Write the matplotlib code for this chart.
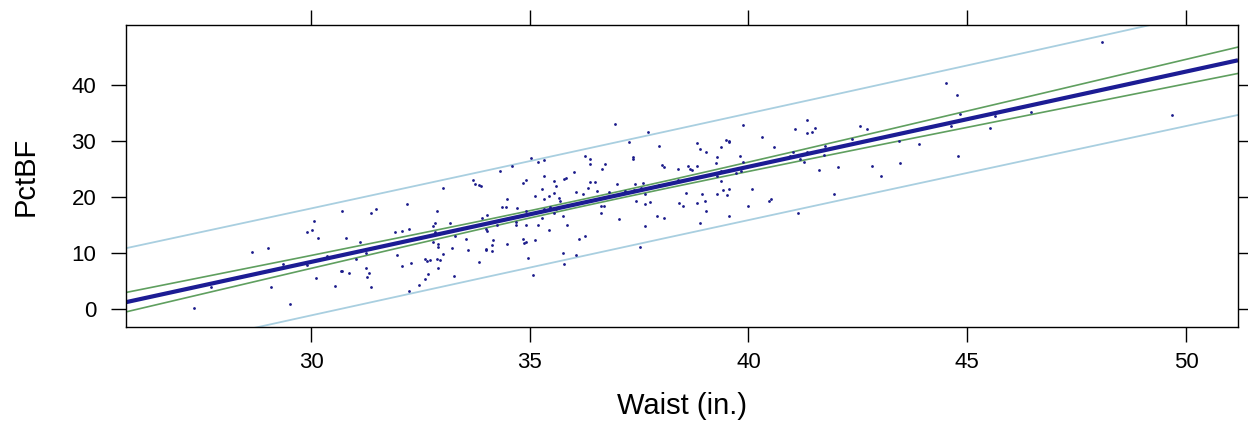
import numpy as np
import matplotlib
matplotlib.use("Agg")
import matplotlib.pyplot as plt

plt.rcParams['font.family'] = ['Liberation Sans', 'DejaVu Sans']

# Waist (in.) and PctBF values
waist = [
    27.32, 27.72, 28.66, 29.02, 29.36, 29.09, 29.51, 29.92, 30.03, 30.07, 30.15, 29.92, 30.11,
    33.70, 33.74, 33.84, 33.02, 32.20, 30.70, 31.37, 31.49, 32.87, 33.18, 32.84, 32.80,
    31.93, 32.08, 32.24, 32.84, 33.29, 33.54, 30.79, 31.13, 32.80, 32.90, 32.90, 33.22,
    33.59, 33.02, 31.25, 30.36, 31.97, 31.02, 32.60, 32.65, 32.72, 32.87, 32.95, 33.85,
    32.08, 32.29, 32.91, 30.68, 30.72, 30.87, 31.25, 31.33, 31.29, 32.68, 32.60, 33.26,
    32.48, 31.37, 30.55, 32.24,
    33.89, 36.96, 35.03, 35.19, 35.32, 34.33, 34.60, 36.26, 36.38, 36.38, 36.73, 36.65,
    36.02, 35.32, 34.84, 34.91, 35.55, 35.78, 35.83, 35.59, 35.27, 36.38, 36.50, 37.00,
    36.34, 36.06, 36.21, 36.53, 36.81, 35.12, 35.44, 35.55, 35.32, 35.66, 35.70, 34.49,
    34.37, 34.45, 34.72, 36.62, 36.69, 35.47, 34.91, 35.32, 35.59, 36.62, 34.02, 35.55,
    35.75, 35.27, 33.90, 37.04, 34.68, 34.68, 34.25, 34.91, 35.19, 35.86, 33.99, 34.02,
    35.44, 34.84, 34.88, 34.91, 35.12, 34.16, 34.13, 34.49, 34.01, 34.01, 34.13, 36.13,
    36.26, 35.75, 36.06, 34.96, 35.78, 35.07,
    39.88, 37.71, 37.28, 40.32, 37.95, 38.82, 38.89, 39.04, 39.49, 39.56, 39.56, 39.37,
    39.29, 39.80, 40.59, 37.36, 37.36, 39.26, 39.88, 38.02, 38.07, 38.62, 38.66, 38.70,
    38.82, 38.39, 39.37, 39.29, 39.72, 39.84, 38.39, 39.37, 37.40, 37.60, 37.95, 37.17,
    37.39, 37.55, 37.64, 39.41, 39.56, 39.29, 39.52, 38.58, 38.93, 40.08, 37.44, 37.76,
    37.64, 38.42, 38.51, 38.82, 39.01, 39.99, 40.47, 40.51, 39.04, 37.91, 38.07, 39.56,
    37.64, 38.89, 37.52,
    44.52, 44.76, 44.84, 44.64, 44.80, 41.33, 41.06, 41.53, 41.45, 41.33, 42.56, 42.71,
    42.36, 41.76, 41.01, 41.33, 40.94, 41.72, 41.18, 41.26, 43.43, 43.90, 43.46, 41.61,
    42.05, 42.83, 43.04, 41.95, 41.14,
    48.07, 45.51, 45.63, 46.45, 49.68,
]
pctbf = [
    0.2, 4.05, 10.3, 10.9, 8.0, 3.9, 0.9, 13.7, 14.2, 15.8, 12.7, 7.9, 5.5,
    23.0, 22.3, 22.1, 21.7, 18.7, 17.6, 17.2, 17.9, 17.5, 15.4, 15.3, 14.9,
    13.8, 14.0, 14.4, 13.7, 13.0, 12.5, 12.7, 12.0, 12.0, 11.6, 11.1, 10.9,
    10.5, 9.8, 10.1, 9.5, 9.6, 9.0, 9.0, 8.6, 8.7, 9.0, 8.8, 8.5,
    7.7, 8.2, 7.3, 6.8, 6.8, 6.5, 7.3, 6.5, 5.8, 6.25, 5.4, 5.9,
    4.3, 3.9, 4.1, 3.2,
    22.0, 33.0, 27.0, 26.25, 26.7, 24.6, 25.5, 27.4, 26.8, 25.95, 25.95, 25.0,
    24.5, 23.75, 22.55, 23.0, 22.9, 23.2, 23.45, 22.0, 21.5, 22.7, 22.7, 22.3,
    21.55, 21.0, 20.5, 21.1, 20.95, 20.2, 20.2, 20.65, 19.6, 19.9, 19.3, 19.7,
    18.2, 18.3, 18.0, 18.45, 18.35, 18.3, 17.45, 17.9, 17.9, 17.1, 16.8, 17.1,
    16.7, 16.2, 16.2, 16.1, 15.65, 15.05, 15.05, 15.1, 15.0, 15.0, 14.3, 13.9,
    14.1, 12.6, 11.8, 12.0, 12.4, 12.3, 11.4, 11.7, 10.7, 10.5, 10.4, 12.6,
    13.15, 10.1, 9.75, 9.2, 8.0, 6.2,
    32.9, 31.55, 29.9, 30.8, 29.2, 29.6, 28.5, 28.0, 30.2, 30.05, 29.75, 28.9,
    27.1, 27.3, 28.9, 27.2, 26.8, 26.0, 26.2, 25.65, 25.3, 25.5, 25.0, 24.8,
    25.6, 25.0, 24.7, 23.8, 24.3, 24.6, 23.0, 22.8, 22.3, 22.5, 22.2, 21.1,
    21.3, 21.7, 20.6, 21.2, 21.4, 20.5, 20.4, 20.65, 20.5, 21.4, 19.3, 19.2,
    18.75, 18.9, 18.5, 18.9, 19.3, 18.45, 19.4, 19.7, 17.6, 16.7, 16.25, 16.7,
    14.8, 15.4, 11.1,
    40.3, 38.25, 34.9, 32.7, 27.4, 33.8, 32.2, 32.4, 31.7, 31.4, 32.7, 32.1,
    30.4, 29.2, 28.1, 28.1, 27.4, 27.5, 26.8, 26.25, 30.1, 29.5, 26.1, 24.9,
    25.4, 25.5, 23.75, 20.6, 17.1,
    47.6, 32.4, 34.4, 35.1, 34.6,
]

x_ticks = [30, 35, 40, 45, 50]
y_ticks = [0, 10, 20, 30, 40]
x_label = "Waist (in.)"
y_label = "PctBF"

x = np.array(waist)
y = np.array(pctbf)
n = len(x)
slope, intercept = np.polyfit(x, y, 1)
resid = y - (intercept + slope * x)
s = np.sqrt(np.sum(resid ** 2) / (n - 2))
xbar = x.mean()
sxx = np.sum((x - xbar) ** 2)
tval = 1.9696

xlim = (25.76, 51.19)
ylim = (-3.16, 50.7)
xs = np.linspace(xlim[0], xlim[1], 400)
fit = intercept + slope * xs
se_mean = s * np.sqrt(1.0 / n + (xs - xbar) ** 2 / sxx)
se_pred = s * np.sqrt(1.0 + 1.0 / n + (xs - xbar) ** 2 / sxx)

fig = plt.figure(figsize=(12.48, 4.36), dpi=100)
ax = fig.add_axes([125.5 / 1248, 1 - 327 / 436, (1238 - 125.5) / 1248, (327 - 25) / 436])

blue_light = "#a9cfe0"
green = "#5f9f5f"
navy = "#1c1c94"

ax.plot(xs, fit + tval * se_pred, color=blue_light, lw=1.3)
ax.plot(xs, fit - tval * se_pred, color=blue_light, lw=1.3)
ax.plot(xs, fit + tval * se_mean, color=green, lw=1.2)
ax.plot(xs, fit - tval * se_mean, color=green, lw=1.2)
ax.plot(xs, fit, color=navy, lw=3.0, solid_capstyle='butt')
ax.scatter(x, y, s=4, color="#1a1a8a", linewidths=0, zorder=5)

ax.set_xlim(*xlim)
ax.set_ylim(*ylim)
ax.set_xticks(x_ticks)
ax.set_yticks(y_ticks)
ax.tick_params(axis='both', direction='out', length=11, width=1.0, labelsize=16,
               top=True, right=True, labeltop=False, labelright=False)
ax.tick_params(axis='x', pad=7)
ax.tick_params(axis='y', pad=10)
for sp in ax.spines.values():
    sp.set_linewidth(1.0)
ax.set_xlabel(x_label, fontsize=21)
ax.set_ylabel(y_label, fontsize=21)
ax.xaxis.set_label_coords(0.5, (327 - 392) / 302)
ax.yaxis.set_label_coords((40 - 125.5) / 1112.5, 0.5)

fig.savefig("out.png", dpi=100)
